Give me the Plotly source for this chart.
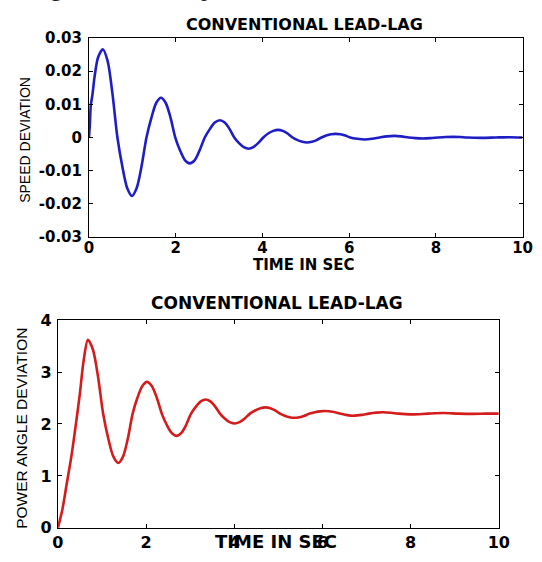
import plotly.graph_objects as go

# ---- data ----
speed_t = [0, 0.02, 0.04, 0.08, 0.13, 0.21, 0.32, 0.43, 0.54, 0.655, 0.77, 0.88, 0.99,
           1.1, 1.21, 1.325, 1.44, 1.55, 1.66, 1.77, 1.88, 1.99, 2.1, 2.21, 2.32,
           2.44, 2.55, 2.67, 2.79, 2.9, 3.02, 3.13, 3.24, 3.35, 3.46, 3.57, 3.68,
           3.79, 3.9, 4.02, 4.13, 4.25, 4.36, 4.47, 4.58, 4.695, 4.81, 4.92, 5.03,
           5.14, 5.25, 5.36, 5.47, 5.58, 5.69, 5.8, 5.91, 6.025, 6.19, 6.36, 6.53,
           6.7, 6.87, 7.04, 7.2, 7.37, 7.53, 7.7, 7.87, 8.05, 8.22, 8.4, 8.56, 8.72,
           9.05, 9.37, 9.7, 10]
speed_dev = [0, 0.004, 0.0095, 0.013, 0.0185, 0.0242, 0.0266, 0.023, 0.0133, 0.0, -0.0088, -0.0152, -0.0176,
             -0.0152, -0.0088, 0.0, 0.006, 0.0104, 0.012, 0.0104, 0.006, 0.0, -0.0039, -0.0068, -0.0078,
             -0.0068, -0.0039, 0.0, 0.0026, 0.0045, 0.0052, 0.0045, 0.0026, 0.0, -0.0017, -0.0029, -0.0034,
             -0.0029, -0.0017, 0.0, 0.0012, 0.002, 0.0023, 0.002, 0.0012, 0.0, -0.0008, -0.0013, -0.0015,
             -0.0013, -0.0008, 0.0, 0.0006, 0.001, 0.0011, 0.001, 0.0006, 0.0, -0.0004, -0.0006, -0.0004,
             0.0, 0.00035, 0.0005, 0.00035, 0.0, -0.0002, -0.0003, -0.0002, 0.0, 0.00015, 0.0002, 0.00015, 0.0,
             -0.0001, 0.0, 0.0001, 0.0]

angle_t = [0, 0.1, 0.2, 0.3, 0.4, 0.5, 0.58, 0.68, 0.795, 0.91, 1.025, 1.14, 1.255, 1.37,
           1.478, 1.587, 1.695, 1.803, 1.912, 2.02, 2.132, 2.243, 2.355, 2.467, 2.578, 2.69,
           2.8, 2.91, 3.02, 3.13, 3.24, 3.35, 3.458, 3.567, 3.675, 3.783, 3.892, 4.0,
           4.118, 4.237, 4.355, 4.473, 4.592, 4.71, 4.818, 4.927, 5.035, 5.143, 5.252, 5.36,
           5.477, 5.593, 5.71, 5.827, 5.943, 6.06, 6.23, 6.39, 6.56, 6.72, 6.89, 7.05, 7.22,
           7.38, 7.55, 7.72, 7.88, 8.05, 8.4, 8.75, 9.08, 9.4, 9.7, 10]
angle_dev = [0, 0.35, 0.85, 1.35, 1.95, 2.6, 3.2, 3.62, 3.43, 2.91, 2.2, 1.725, 1.377, 1.25,
             1.377, 1.725, 2.2, 2.505, 2.728, 2.81, 2.728, 2.505, 2.2, 1.985, 1.828, 1.77,
             1.828, 1.985, 2.2, 2.335, 2.434, 2.47, 2.434, 2.335, 2.2, 2.105, 2.035, 2.01,
             2.035, 2.105, 2.2, 2.26, 2.304, 2.32, 2.304, 2.26, 2.2, 2.16, 2.131, 2.12,
             2.131, 2.16, 2.2, 2.225, 2.243, 2.25, 2.235, 2.2, 2.17, 2.16, 2.175, 2.2, 2.218,
             2.225, 2.215, 2.2, 2.19, 2.185, 2.2, 2.21, 2.2, 2.195, 2.2, 2.2]

x_ticks = [0, 2, 4, 6, 8, 10]
x_ticktext = ["0", "2", "4", "6", "8", "10"]
speed_ticks = [-0.03, -0.02, -0.01, 0, 0.01, 0.02, 0.03]
speed_ticktext = ["-0.03", "-0.02", "-0.01", "0", "0.01", "0.02", "0.03"]
angle_ticks = [0, 1, 2, 3, 4]
angle_ticktext = ["0", "1", "2", "3", "4"]

title_text = "CONVENTIONAL LEAD-LAG"
x_title = "TIME IN SEC"
speed_title = "SPEED DEVIATION"
angle_title = "POWER ANGLE DEVIATION"

W, H = 542, 562


def px_x(p):
    return p / W


def px_y(p):
    return 1 - p / H


fig = go.Figure()
fig.add_trace(go.Scatter(x=speed_t, y=speed_dev, mode="lines",
                         line=dict(color="#1e1ec4", width=2.6, shape="spline", smoothing=0.8),
                         xaxis="x", yaxis="y", hoverinfo="skip"))
fig.add_trace(go.Scatter(x=angle_t, y=angle_dev, mode="lines",
                         line=dict(color="#d41c1c", width=2.6, shape="spline", smoothing=0.8),
                         xaxis="x2", yaxis="y2", hoverinfo="skip"))

tick_font_top = dict(family="DejaVu Sans", size=15, color="black", weight="bold")
tick_font_bot = dict(family="DejaVu Sans", size=16, color="black", weight="bold")
axis_common = dict(showline=True, linecolor="black", linewidth=1, mirror="ticks",
                   ticks="inside", ticklen=4, tickcolor="black", tickwidth=1,
                   showgrid=False, zeroline=False, tickmode="array")

fig.update_layout(
    width=W, height=H, autosize=False,
    margin=dict(l=0, r=0, t=0, b=0),
    paper_bgcolor="white", plot_bgcolor="white",
    showlegend=False,
    xaxis=dict(domain=[px_x(85.7), px_x(533.3)], range=[0, 10], anchor="y",
               tickvals=x_ticks, ticktext=x_ticktext, tickfont=tick_font_top,
               ticklabelstandoff=-3, **axis_common),
    yaxis=dict(domain=[px_y(236), px_y(30)], range=[-0.03, 0.03], anchor="x",
               tickvals=speed_ticks, ticktext=speed_ticktext, tickfont=tick_font_top,
               ticklabelstandoff=3, **axis_common),
    xaxis2=dict(domain=[px_x(53.6), px_x(508.8)], range=[0, 10], anchor="y2",
                tickvals=x_ticks, ticktext=x_ticktext, tickfont=tick_font_bot,
                ticklabelstandoff=0, **axis_common),
    yaxis2=dict(domain=[px_y(537), px_y(322)], range=[0, 4], anchor="x2",
                tickvals=angle_ticks, ticktext=angle_ticktext, tickfont=tick_font_bot,
                ticklabelstandoff=2, **axis_common),
)

ann = []
# titles
ann.append(dict(text=title_text, x=px_x(308), y=px_y(16.5), xref="paper", yref="paper",
                showarrow=False, xanchor="center", yanchor="middle",
                font=dict(family="DejaVu Sans", size=16, color="black", weight="bold")))
ann.append(dict(text=title_text, x=px_x(280), y=px_y(304), xref="paper", yref="paper",
                showarrow=False, xanchor="center", yanchor="middle",
                font=dict(family="DejaVu Sans", size=17, color="black", weight="bold")))
# x titles
ann.append(dict(text=x_title, x=px_x(308), y=px_y(265), xref="paper", yref="paper",
                showarrow=False, xanchor="center", yanchor="middle",
                font=dict(family="DejaVu Sans", size=15, color="black", weight="bold")))
ann.append(dict(text=x_title, x=px_x(279), y=px_y(551), xref="paper", yref="paper",
                showarrow=False, xanchor="center", yanchor="middle",
                font=dict(family="DejaVu Sans", size=18, color="black", weight="bold")))
# y titles
ann.append(dict(text=speed_title, x=px_x(20), y=px_y(135), xref="paper", yref="paper",
                showarrow=False, xanchor="center", yanchor="middle", textangle=-90,
                font=dict(family="Liberation Sans", size=14, color="black")))
ann.append(dict(text=angle_title, x=px_x(16), y=px_y(434), xref="paper", yref="paper",
                showarrow=False, xanchor="center", yanchor="middle", textangle=-90,
                font=dict(family="Liberation Sans", size=15.5, color="black")))
# cropped caption fragment at the very top (only descenders visible)
ann.append(dict(text="g", x=px_x(52), y=px_y(-21.5), xref="paper", yref="paper",
                showarrow=False, xanchor="center", yanchor="middle",
                font=dict(family="Liberation Serif", size=24, color="#222222")))
ann.append(dict(text="p", x=px_x(207), y=px_y(-21.5), xref="paper", yref="paper",
                showarrow=False, xanchor="center", yanchor="middle",
                font=dict(family="Liberation Serif", size=24, color="#222222")))
fig.update_layout(annotations=ann)

fig.write_html("out.html")
